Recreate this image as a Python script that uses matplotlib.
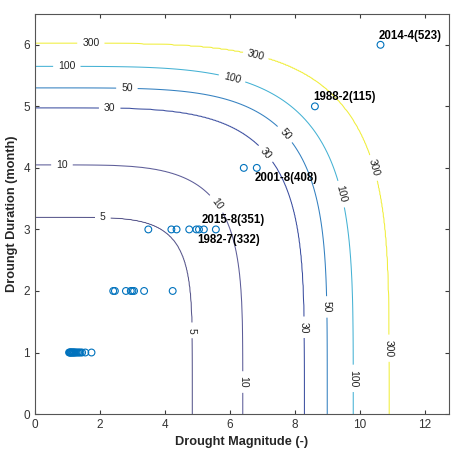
import matplotlib.pyplot as plt
import numpy as np

plt.rcParams['font.family'] = ['Liberation Sans', 'DejaVu Sans']

# joint return period levels (years): axis crossings and corner exponent of each curve
levels = [5, 10, 30, 50, 100, 300]
mag_at_level = [4.85, 6.4, 8.3, 9.0, 9.8, 10.9]
dur_at_level = [3.2, 4.05, 4.98, 5.3, 5.65, 6.02]
corner_exp = [5.5, 4.6, 4.4, 4.5, 4.2, 4.3]

# drought events
ev_mag = [1.05, 1.07, 1.09, 1.1, 1.12, 1.14, 1.16, 1.18, 1.2, 1.22, 1.25, 1.28,
          1.32, 1.36, 1.4, 1.45, 1.55, 1.74,
          2.41, 2.46, 2.8, 2.95, 3.0, 3.05, 3.36, 4.24,
          3.49, 4.2, 4.36, 4.75, 4.97, 5.05, 5.2, 5.57,
          6.43, 6.83, 8.62, 10.64]
ev_dur = [1] * 18 + [2] * 8 + [3] * 8 + [4, 4, 5, 6]

# labelled events: (magnitude, duration, text, above?)
ev_labels = [
    (10.64, 6, '2014-4(523)', True),
    (8.62, 5, '1988-2(115)', True),
    (6.83, 4, '2001-8(408)', False),
    (5.2, 3, '2015-8(351)', True),
    (5.05, 3, '1982-7(332)', False),
]

line_colors = ['#58578c', '#5c5c98', '#3b4ea0', '#3380c0', '#45b2d4', '#f0ee3c']

# contour label positions
label_pos = [(1.72, 6.02), (6.8, 5.8), (10.43, 4.0), (10.92, 1.07),
             (0.98, 5.63), (6.06, 5.44), (9.48, 3.58), (9.78, 0.58),
             (2.83, 5.28), (7.6, 4.5), (8.92, 1.74),
             (2.3, 4.97), (7.08, 4.22), (8.22, 1.41),
             (0.83, 4.0), (5.6, 3.42), (6.3, 0.52),
             (2.09, 3.18), (4.83, 1.36)]

xg = np.linspace(0, 12.75, 600)
yg = np.linspace(0, 6.5, 400)
X, Y = np.meshgrid(xg, yg)

# "radius" of each grid point relative to each level curve (1 on the curve)
phi = np.array([((X / a) ** n + (Y / b) ** n) ** (1 / n)
                for a, b, n in zip(mag_at_level, dur_at_level, corner_exp)])

# level index field: k exactly on curve k, linear in between
nlev = len(levels)
field = np.where(phi[0] < 1, phi[0] - 1, nlev - 1 + (phi[-1] - 1))
for k in range(nlev - 1):
    between = (phi[k] >= 1) & (phi[k + 1] < 1)
    frac = (phi[k] - 1) / np.maximum(phi[k] - phi[k + 1], 1e-9)
    field = np.where(between, k + frac, field)

fig = plt.figure(figsize=(4.51, 4.53), dpi=100)
ax = fig.add_axes([0.0776, 0.086, 0.918, 0.883])

cs = ax.contour(X, Y, field, levels=range(nlev), colors=line_colors, linewidths=0.75)
ax.clabel(cs, manual=label_pos, inline=True, fontsize=7.5,
          fmt={k: str(t) for k, t in enumerate(levels)}, colors='#222222')

ax.scatter(ev_mag, ev_dur, s=24, facecolors='none', edgecolors='#0072bd', linewidths=0.8, zorder=3)

for mx, dy, txt, above in ev_labels:
    ax.annotate(txt, (mx, dy), xytext=(-1.5, 6.5 if above else -7.5),
                textcoords='offset points', ha='left', va='center',
                fontsize=8.3, fontweight='bold', color='black')

ax.set_xlim(0, 12.75)
ax.set_ylim(0, 6.5)
ax.set_xticks(range(0, 13, 2))
ax.set_yticks(range(0, 7))
ax.tick_params(direction='in', top=True, right=True, length=3, width=0.8,
               labelsize=8.5, colors='#3a3a3a', labelcolor='#333333')
for sp in ax.spines.values():
    sp.set_color('#555555')
    sp.set_linewidth(0.8)

ax.set_xlabel('Drought Magnitude (-)', fontsize=9.2, fontweight='bold', color='#262626')
ax.set_ylabel('Droungt Duration (month)', fontsize=9.2, fontweight='bold', color='#262626')

fig.savefig('out.png', dpi=100)
